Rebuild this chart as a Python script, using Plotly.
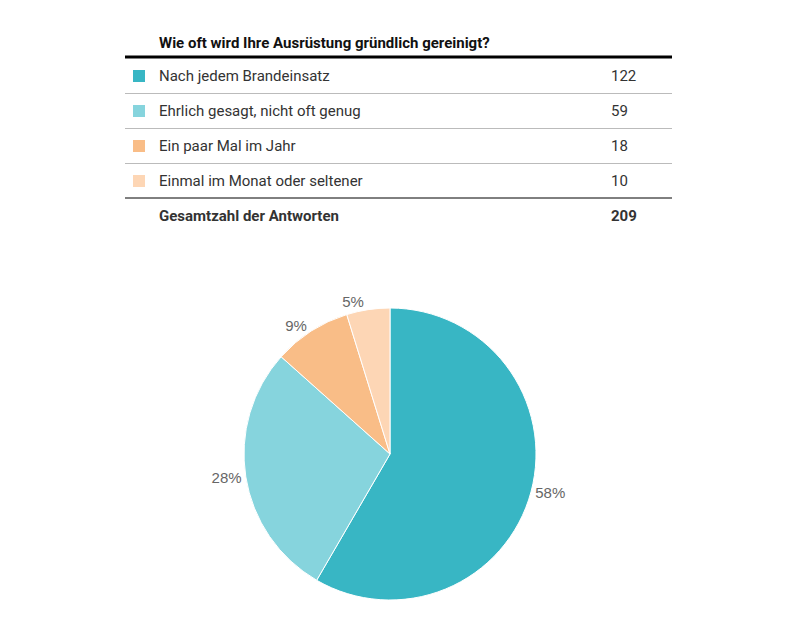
import plotly.graph_objects as go

title = "Wie oft wird Ihre Ausrüstung gründlich gereinigt?"
categories = ["Nach jedem Brandeinsatz", "Ehrlich gesagt, nicht oft genug",
              "Ein paar Mal im Jahr", "Einmal im Monat oder seltener"]
counts = [122, 59, 18, 10]
colors = ["#38B6C4", "#86D4DD", "#F9BD87", "#FDD6B5"]
total_label = "Gesamtzahl der Antworten"

W, H = 800, 640
FONT = "Roboto, 'Noto Sans', sans-serif"

def px(x):
    return x / W

def py(y):
    return 1 - y / H

fig = go.Figure()

# Pie
cx, cy, r = 390, 454, 146
fig.add_trace(go.Pie(
    labels=categories, values=counts, sort=False, direction="clockwise",
    rotation=0,
    marker=dict(colors=colors, line=dict(color="white", width=1)),
    textposition="outside", texttemplate="%{percent:.0%}",
    textfont=dict(color="#666666", size=15, family="Arial, 'Liberation Sans', sans-serif"),
    showlegend=False, hoverinfo="label+value+percent",
    domain=dict(x=[px(cx - r), px(cx + r)], y=[py(cy + r), py(cy - r)]),
))

shapes = []
annotations = []

# Title
annotations.append(dict(x=px(157), y=py(43), xref="paper", yref="paper", text="<b>" + title + "</b>",
                        showarrow=False, xanchor="left", yanchor="middle",
                        font=dict(size=15, color="#111111", family=FONT)))
shapes.append(dict(type="line", xref="paper", yref="paper", x0=px(125), x1=px(672), y0=py(57), y1=py(57),
                   line=dict(color="black", width=3)))

row_y = [76, 111, 146, 181]
for i, (cat, n, c) in enumerate(zip(categories, counts, colors)):
    y = row_y[i]
    shapes.append(dict(type="rect", xref="paper", yref="paper", x0=px(133), x1=px(145),
                       y0=py(y - 6), y1=py(y + 6), fillcolor=c, line=dict(width=0)))
    annotations.append(dict(x=px(157), y=py(y), xref="paper", yref="paper", text=cat, showarrow=False,
                            xanchor="left", yanchor="middle", font=dict(size=15, color="#333333", family=FONT)))
    annotations.append(dict(x=px(609), y=py(y), xref="paper", yref="paper", text=str(n), showarrow=False,
                            xanchor="left", yanchor="middle", font=dict(size=15, color="#333333", family=FONT)))
    if i < len(categories) - 1:
        shapes.append(dict(type="line", xref="paper", yref="paper", x0=px(125), x1=px(672),
                           y0=py(y + 17.5), y1=py(y + 17.5), line=dict(color="#BBBBBB", width=1)))

shapes.append(dict(type="line", xref="paper", yref="paper", x0=px(125), x1=px(672), y0=py(198), y1=py(198),
                   line=dict(color="black", width=1)))
annotations.append(dict(x=px(157), y=py(216), xref="paper", yref="paper", text="<b>" + total_label + "</b>",
                        showarrow=False, xanchor="left", yanchor="middle",
                        font=dict(size=15, color="#333333", family=FONT)))
annotations.append(dict(x=px(609), y=py(216), xref="paper", yref="paper", text="<b>" + str(sum(counts)) + "</b>",
                        showarrow=False, xanchor="left", yanchor="middle",
                        font=dict(size=15, color="#333333", family=FONT)))

fig.update_layout(width=W, height=H, margin=dict(l=0, r=0, t=0, b=0),
                  paper_bgcolor="white", plot_bgcolor="white",
                  shapes=shapes, annotations=annotations)

fig.write_html("out.html")
